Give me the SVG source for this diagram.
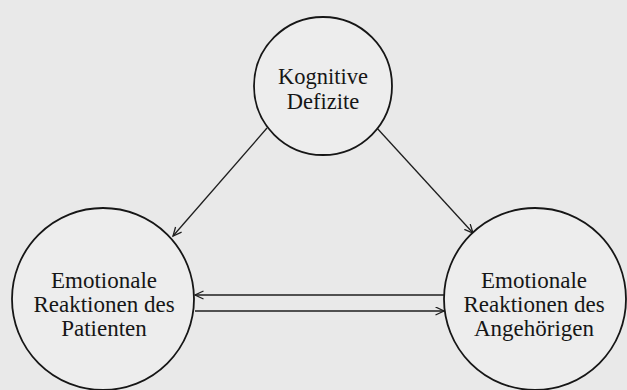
<svg xmlns="http://www.w3.org/2000/svg" width="627" height="390" viewBox="0 0 627 390">
<style>
.bg{fill:#e9e9e9}
.node circle{fill:#ededed;stroke:#161616;stroke-width:1.8}
.node text{font-family:"Liberation Serif","Times New Roman",serif;fill:#161616;text-anchor:middle}
.top text{font-size:22.5px}
.bottom text{font-size:23px}
.edge{stroke:#1e1e1e;stroke-width:1.3;fill:none;marker-end:url(#arr)}
</style>
<defs>
<marker id="arr" markerUnits="userSpaceOnUse" markerWidth="11" markerHeight="10" refX="9" refY="4.5" orient="auto">
<path d="M0.5,0.5 L9,4.5 L0.5,8.5" fill="none" stroke="#1e1e1e" stroke-width="1.3"/>
</marker>
</defs>
<rect class="bg" x="0" y="0" width="627" height="390"/>
<g id="connectors">
<line class="edge" x1="267" y1="128" x2="173" y2="236"/>
<line class="edge" x1="376" y1="127" x2="473" y2="233"/>
<line class="edge" x1="444" y1="295" x2="195" y2="295"/>
<line class="edge" x1="195" y1="311" x2="444" y2="311"/>
</g>
<g id="kognitive-defizite" class="node top">
<circle cx="323" cy="86" r="69"/>
<text x="323" y="84">Kognitive</text>
<text x="323" y="109">Defizite</text>
</g>
<g id="emotionale-reaktionen-patient" class="node bottom">
<circle cx="103" cy="299" r="91"/>
<text x="104" y="288">Emotionale</text>
<text x="104" y="312">Reaktionen des</text>
<text x="104" y="336">Patienten</text>
</g>
<g id="emotionale-reaktionen-angehoerige" class="node bottom">
<circle cx="535" cy="299" r="91"/>
<text x="534" y="288">Emotionale</text>
<text x="534" y="312">Reaktionen des</text>
<text x="534" y="336">Angehörigen</text>
</g>
</svg>
